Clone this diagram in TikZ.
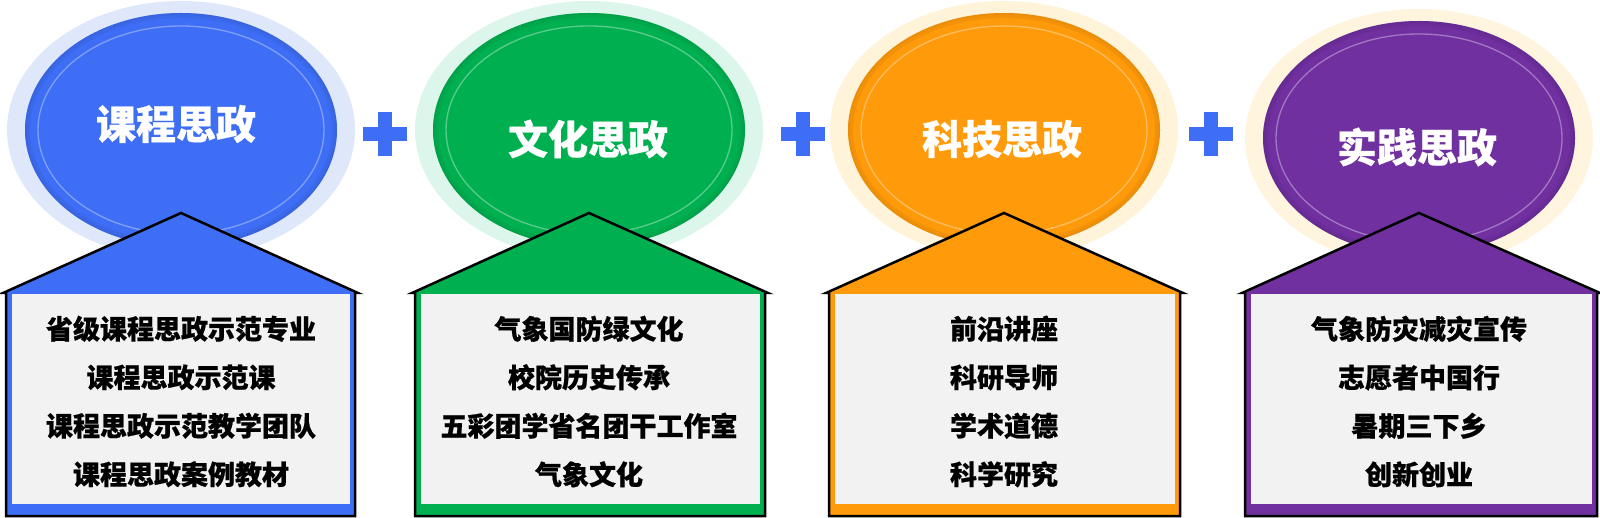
\documentclass[tikz,border=0pt]{standalone}
\usepackage{fontspec}
\newfontfamily\cjk{Noto Sans CJK SC}[BoldFeatures={FakeBold=0.6}]
\usetikzlibrary{shapes.geometric}
\definecolor{c1}{RGB}{61,110,245}
\definecolor{h1}{RGB}{223,231,251}
\definecolor{c2}{RGB}{0,176,80}
\definecolor{h2}{RGB}{221,246,236}
\definecolor{c3}{RGB}{255,154,10}
\definecolor{h3}{RGB}{255,244,218}
\definecolor{c4}{RGB}{112,48,160}
\definecolor{h4}{RGB}{255,245,222}
\definecolor{boxgray}{RGB}{242,242,242}
\tikzset{
  halostyle/.style={ellipse, draw=none, inner sep=0pt, outer sep=0pt, minimum width=348pt, minimum height=258pt},
  ellstyle/.style={ellipse, draw=none, inner sep=0pt, outer sep=0pt, minimum width=312pt, minimum height=234pt},
  titlestyle/.style={text=white, inner sep=0pt, font={\cjk\bfseries\fontsize{40pt}{44pt}\selectfont}},
  itemstyle/.style={text=black, inner sep=0pt, align=center, font={\cjk\bfseries\fontsize{27pt}{48.5pt}\selectfont}},
  housestyle/.style={draw=black, line width=2.5pt, line join=miter},
  plusstyle/.style={fill=c1}
}
\newcommand\mkpanel[9]{%
  \node[halostyle, fill=h#1] (halo#1) at (#2,#5) {};
  \node[ellstyle, fill=c#1] (ell#1) at (#2,#5) {};
  \begin{scope}
    \clip (#2,#5) ellipse [x radius=156pt, y radius=117pt];
    \draw[line width=10pt, draw=c#1!75!black, opacity=0.2] (#2,#5) ellipse [x radius=156pt, y radius=117pt];
    \draw[line width=4pt, draw=c#1!75!black, opacity=0.15] (#2,#5) ellipse [x radius=156pt, y radius=117pt];
  \end{scope}
  \draw[white, opacity=0.35, line width=1.3pt] (#2,#5) ellipse [x radius=143pt, y radius=104pt];
  \node[titlestyle] (title#1) at (#6,#7) {#8};
  \draw[housestyle, fill=c#1] (#3-3,293) -- (#2,213) -- (#4+3,293) -- (#4,293) -- (#4,516) -- (#3,516) -- (#3,293) -- cycle;
  \fill[boxgray] (#3+6,294.5) rectangle (#4-5,504);
  \node[itemstyle] (items#1) at (#2,401.5) {#9};
}
\newcommand\mkplus[2]{%
  \fill[plusstyle] (#1-7,#2-22) rectangle (#1+7,#2+22);
  \fill[plusstyle] (#1-22,#2-7) rectangle (#1+22,#2+7);
}
\begin{document}
\begin{tikzpicture}[x=1pt, y=-1pt]
\useasboundingbox (0,0) rectangle (1600,518);
\fill[white] (0,0) rectangle (1600,518);
\mkpanel{1}{181}{6}{355}{130}{176}{124}{课程思政}{省级课程思政示范专业\\课程思政示范课\\课程思政示范教学团队\\课程思政案例教材}
\mkpanel{2}{589}{415}{765}{130}{588}{139}{文化思政}{气象国防绿文化\\校院历史传承\\五彩团学省名团干工作室\\气象文化}
\mkpanel{3}{1004}{829}{1180}{130}{1002}{139}{科技思政}{前沿讲座\\科研导师\\学术道德\\科学研究}
\mkpanel{4}{1419}{1245}{1597}{138}{1417}{147}{实践思政}{气象防灾减灾宣传\\志愿者中国行\\暑期三下乡\\创新创业}
\mkplus{385}{134}
\mkplus{803}{134}
\mkplus{1211}{134}
\end{tikzpicture}
\end{document}
